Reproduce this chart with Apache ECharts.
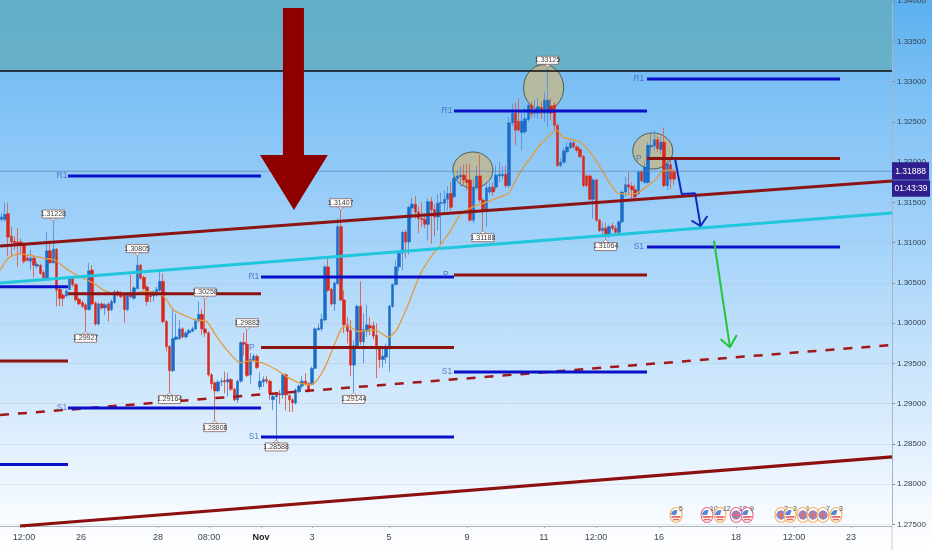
<!DOCTYPE html>
<html>
<head>
<meta charset="utf-8">
<style>
html,body{margin:0;padding:0;width:932px;height:550px;overflow:hidden;background:linear-gradient(to bottom,#5bb0ef 0px,#7cc0f5 90px,#a6d4fa 250px,#d3e9fc 400px,#f8fbff 520px,#ffffff 550px);}
#c{width:932px;height:550px;}
</style>
<script src="https://cdn.jsdelivr.net/npm/echarts@6/dist/echarts.min.js"></script>
</head>
<body>
<div id="c"></div>
<script>
// [open, close, low, high]
const candles = [
[1.3129,1.3132,1.3126,1.3137],[1.3129,1.3135,1.3126,1.3150],[1.3136,1.3107,1.3083,1.3150],[1.3108,1.3101,1.3083,1.3120],
[1.3102,1.3097,1.3091,1.3108],[1.3101,1.3097,1.3070,1.3118],[1.3101,1.3097,1.3085,1.3105],[1.3097,1.3077,1.3074,1.3099],
[1.3081,1.3078,1.3077,1.3085],[1.3077,1.3081,1.3066,1.3091],[1.3081,1.3072,1.3057,1.3085],[1.3071,1.3073,1.3068,1.3076],
[1.3072,1.3062,1.3060,1.3074],[1.3063,1.3056,1.3052,1.3066],[1.3056,1.3090,1.3054,1.3114],[1.3090,1.3075,1.3074,1.3103],
[1.3075,1.3092,1.3074,1.3127],[1.3092,1.3041,1.3021,1.3093],[1.3042,1.3031,1.3021,1.3045],[1.3035,1.3031,1.3021,1.3037],
[1.3034,1.3040,1.3032,1.3042],[1.3042,1.3056,1.3041,1.3058],[1.3056,1.3048,1.3045,1.3058],[1.3048,1.3029,1.3027,1.3050],
[1.3030,1.3024,1.3022,1.3032],[1.3026,1.3021,1.3019,1.3028],[1.3023,1.3017,1.2990,1.3025],[1.3017,1.3065,1.3016,1.3075],
[1.3066,1.3024,1.3022,1.3072],[1.3025,1.2999,1.2997,1.3027],[1.2999,1.3024,1.2997,1.3026],[1.3024,1.3019,1.3017,1.3026],
[1.3019,1.3023,1.3010,1.3025],[1.3024,1.3016,1.3002,1.3026],[1.3017,1.3027,1.3015,1.3030],[1.3026,1.3039,1.3024,1.3041],
[1.3039,1.3035,1.3033,1.3041],[1.3037,1.3033,1.3031,1.3040],[1.3035,1.3017,1.3001,1.3037],[1.3017,1.3036,1.3015,1.3038],
[1.3037,1.3033,1.3031,1.3060],[1.3031,1.3044,1.3029,1.3046],[1.3043,1.3072,1.3042,1.3084],[1.3072,1.3056,1.3054,1.3074],
[1.3057,1.3043,1.3041,1.3059],[1.3045,1.3027,1.3022,1.3047],[1.3037,1.3033,1.3026,1.3040],[1.3034,1.3039,1.3027,1.3041],
[1.3035,1.3042,1.3033,1.3045],[1.3041,1.3052,1.3039,1.3065],[1.3052,1.3002,1.3000,1.3062],[1.3002,1.2971,1.2965,1.3004],
[1.2971,1.2941,1.2914,1.2973],[1.2941,1.2981,1.2939,1.3017],[1.2980,1.2983,1.2979,1.3012],[1.2981,1.2993,1.2979,1.3004],
[1.2993,1.2983,1.2981,1.2995],[1.2983,1.2988,1.2981,1.2990],[1.2988,1.2991,1.2986,1.2993],[1.2990,1.2993,1.2989,1.2996],
[1.2993,1.3003,1.2991,1.3006],[1.3003,1.3011,1.3001,1.3027],[1.3011,1.2993,1.2985,1.3018],[1.2993,1.2988,1.2983,1.3030],
[1.2988,1.2936,1.2934,1.2990],[1.2936,1.2925,1.2918,1.2938],[1.2926,1.2916,1.2879,1.2928],[1.2916,1.2927,1.2914,1.2930],
[1.2927,1.2928,1.2922,1.2932],[1.2929,1.2927,1.2913,1.2940],[1.2927,1.2930,1.2909,1.2938],[1.2930,1.2918,1.2916,1.2932],
[1.2918,1.2905,1.2903,1.2920],[1.2905,1.2928,1.2901,1.2930],[1.2928,1.2976,1.2926,1.2978],[1.2976,1.2974,1.2960,1.2988],
[1.2974,1.2935,1.2933,1.2992],[1.2936,1.2955,1.2925,1.2963],[1.2954,1.2959,1.2952,1.2962],[1.2959,1.2945,1.2943,1.2961],
[1.2921,1.2928,1.2917,1.2939],[1.2927,1.2930,1.2921,1.2934],[1.2930,1.2928,1.2925,1.2935],[1.2928,1.2913,1.2905,1.2930],
[1.2905,1.2909,1.2892,1.2913],[1.2909,1.2911,1.2855,1.2913],[1.2913,1.2911,1.2900,1.2917],[1.2911,1.2936,1.2906,1.2938],
[1.2936,1.2911,1.2892,1.2938],[1.2910,1.2905,1.2890,1.2912],[1.2905,1.2901,1.2890,1.2907],[1.2901,1.2917,1.2899,1.2919],
[1.2915,1.2922,1.2913,1.2924],[1.2922,1.2928,1.2919,1.2934],[1.2928,1.2925,1.2923,1.2938],[1.2925,1.2916,1.2914,1.2927],
[1.2924,1.2944,1.2923,1.2946],[1.2944,1.2993,1.2943,1.2995],[1.2992,1.2994,1.2991,1.2999],[1.2993,1.3005,1.2990,1.3012],
[1.3004,1.3070,1.3002,1.3072],[1.3070,1.3041,1.3039,1.3081],[1.3042,1.3024,1.3022,1.3044],[1.3024,1.3050,1.3015,1.3052],
[1.3049,1.3120,1.3048,1.3130],[1.3120,1.3029,1.3027,1.3141],[1.3029,1.2998,1.2988,1.3041],[1.2998,1.2990,1.2975,1.3008],
[1.2991,1.2948,1.2934,1.3004],[1.2948,1.2972,1.2914,1.2979],[1.2972,1.3021,1.2968,1.3023],[1.3021,1.2977,1.2973,1.3052],
[1.2977,1.2992,1.2950,1.3012],[1.2990,1.2998,1.2983,1.3023],[1.2997,1.2994,1.2985,1.3008],[1.2997,1.2984,1.2980,1.3002],
[1.2985,1.2968,1.2932,1.3000],[1.2968,1.2955,1.2944,1.2970],[1.2955,1.2959,1.2945,1.2970],[1.2958,1.2969,1.2950,1.2975],
[1.2968,1.3021,1.2940,1.3023],[1.3021,1.3048,1.3019,1.3050],[1.3048,1.3070,1.3047,1.3078],[1.3070,1.3088,1.3065,1.3090],
[1.3087,1.3113,1.3066,1.3115],[1.3113,1.3101,1.3081,1.3116],[1.3101,1.3144,1.3085,1.3146],[1.3143,1.3148,1.3130,1.3156],
[1.3148,1.3138,1.3130,1.3158],[1.3138,1.3130,1.3112,1.3145],[1.3130,1.3129,1.3120,1.3150],[1.3129,1.3123,1.3118,1.3135],
[1.3123,1.3151,1.3103,1.3155],[1.3151,1.3141,1.3099,1.3157],[1.3141,1.3132,1.3108,1.3148],[1.3132,1.3149,1.3115,1.3160],
[1.3149,1.3150,1.3097,1.3162],[1.3149,1.3154,1.3135,1.3165],[1.3154,1.3161,1.3140,1.3170],[1.3161,1.3144,1.3140,1.3175],
[1.3157,1.3180,1.3155,1.3190],[1.3180,1.3183,1.3175,1.3190],[1.3182,1.3184,1.3170,1.3195],[1.3184,1.3178,1.3172,1.3197],
[1.3178,1.3175,1.3165,1.3198],[1.3178,1.3128,1.3126,1.3198],[1.3128,1.3169,1.3124,1.3180],[1.3169,1.3183,1.3165,1.3196],
[1.3183,1.3153,1.3150,1.3209],[1.3153,1.3140,1.3115,1.3155],[1.3140,1.3168,1.3120,1.3172],[1.3163,1.3169,1.3160,1.3175],
[1.3169,1.3163,1.3158,1.3175],[1.3169,1.3184,1.3165,1.3196],[1.3183,1.3185,1.3175,1.3200],[1.3183,1.3185,1.3178,1.3195],
[1.3185,1.3171,1.3168,1.3196],[1.3171,1.3249,1.3168,1.3256],[1.3249,1.3261,1.3245,1.3273],[1.3261,1.3240,1.3221,1.3274],
[1.3251,1.3240,1.3238,1.3279],[1.3237,1.3251,1.3215,1.3265],[1.3238,1.3254,1.3235,1.3268],[1.3253,1.3271,1.3250,1.3276],
[1.3271,1.3260,1.3255,1.3275],[1.3261,1.3265,1.3256,1.3277],[1.3261,1.3269,1.3255,1.3280],[1.3268,1.3261,1.3254,1.3275],
[1.3261,1.3277,1.3250,1.3287],[1.3261,1.3277,1.3244,1.3318],[1.3270,1.3261,1.3252,1.3280],[1.3271,1.3246,1.3240,1.3275],
[1.3246,1.3196,1.3194,1.3248],[1.3196,1.3200,1.3194,1.3205],[1.3200,1.3214,1.3198,1.3218],[1.3213,1.3219,1.3211,1.3225],
[1.3218,1.3224,1.3216,1.3228],[1.3224,1.3219,1.3217,1.3226],[1.3219,1.3215,1.3212,1.3221],[1.3216,1.3207,1.3205,1.3218],
[1.3207,1.3171,1.3169,1.3209],[1.3183,1.3171,1.3169,1.3185],[1.3183,1.3154,1.3152,1.3185],[1.3154,1.3178,1.3130,1.3180],
[1.3178,1.3128,1.3126,1.3180],[1.3128,1.3115,1.3113,1.3130],[1.3115,1.3118,1.3110,1.3125],[1.3118,1.3108,1.3104,1.3125],
[1.3108,1.3120,1.3106,1.3122],[1.3121,1.3118,1.3115,1.3125],[1.3118,1.3113,1.3111,1.3122],[1.3113,1.3126,1.3111,1.3128],
[1.3126,1.3163,1.3124,1.3165],[1.3163,1.3172,1.3157,1.3182],[1.3172,1.3169,1.3160,1.3188],[1.3170,1.3166,1.3153,1.3175],
[1.3166,1.3157,1.3155,1.3172],[1.3161,1.3188,1.3159,1.3190],[1.3188,1.3177,1.3175,1.3190],[1.3175,1.3194,1.3173,1.3200],
[1.3175,1.3221,1.3173,1.3225],[1.3219,1.3221,1.3210,1.3235],[1.3220,1.3228,1.3215,1.3240],[1.3228,1.3217,1.3213,1.3232],
[1.3216,1.3225,1.3210,1.3232],[1.3225,1.3171,1.3169,1.3243],[1.3171,1.3198,1.3165,1.3205],[1.3197,1.3179,1.3167,1.3205],
[1.3189,1.3179,1.3172,1.3192]
];
const barSlots = 276;
const emaBars = [0,1,2.6,4.1,6.2,8.3,10.3,13.4,17,19.6,22.7,25.8,28.9,32,35.6,41.3,44.4,49.5,51.6,53.7,56.8,59.9,64,67.1,70.2,74.3,77.4,81.5,85.7,88.7,92.9,96,97.5,99.6,101.6,103.7,105.8,107.8,110.9,113.5,116.1,120.2,122.8,125.9,130,133.1,136.7,139.3,142.4,145.5,149.6,153.7,157.4,159.9,163,167.2,171.3,172.3,174.4,177,179.5,182.6,185.7,188.8,191.4,195,197.1,200.2,203.3,204.8,207.4,209.5];
const emaValues = [1.30654,1.30724,1.30807,1.30844,1.30861,1.30853,1.30836,1.30807,1.30786,1.30704,1.30621,1.30559,1.30497,1.30414,1.30364,1.30372,1.30393,1.30372,1.30290,1.30165,1.30103,1.30049,1.30020,1.29834,1.29669,1.29511,1.29532,1.29503,1.29420,1.29337,1.29255,1.29234,1.29263,1.29379,1.29544,1.29751,1.29938,1.29967,1.29896,1.29909,1.29917,1.29826,1.29917,1.30186,1.30600,1.30807,1.30993,1.31138,1.31345,1.31428,1.31490,1.31552,1.31614,1.31800,1.31986,1.32214,1.32380,1.32400,1.32309,1.32284,1.32255,1.32131,1.31945,1.31738,1.31614,1.31605,1.31614,1.31697,1.31800,1.31883,1.31904,1.31883];
// trend lines: [barStart, priceStart, barEnd, priceEnd]
const upperTrend = [0,1.30960,276.16,1.31767];
const cyanTrend = [0,1.30500,276.16,1.31370];
const dashedTrend = [0,1.28860,276.16,1.29730];
const lowerTrend = [6.2,1.27481,276.16,1.28339];
const resistanceTop = 1.33134;
// pivots: [barStart, barEnd, price]
const blueLevels = [[21.05,80.8,1.31829],[0,21.05,1.30454],[21.05,80.8,1.28947],[0,21.05,1.28245],[80.8,140.55,1.30575],[80.8,140.55,1.28587],[140.55,200.3,1.32637],[140.55,200.3,1.29394],[200.3,260.06,1.33034],[200.3,260.06,1.30947]];
const redLevels = [[21.05,80.8,1.30367],[0,21.05,1.29531],[80.8,140.55,1.29699],[140.55,200.3,1.30599],[200.3,260.06,1.32047]];
const levelNames = [['R1',19.2,1.31829],['S1',19.2,1.28947],['R1',78.6,1.30575],['S1',78.6,1.28587],['P',78,1.29699],['R1',138.4,1.32637],['P',138,1.30599],['S1',138.4,1.29394],['R1',197.8,1.33034],['P',197.8,1.32047],['S1',197.8,1.30947]];
const bigArrow = [[87.6,1.33916],[94.1,1.33916],[94.1,1.32090],[101.5,1.32090],[91,1.31407],[80.5,1.32090],[87.6,1.32090]];
const blueArrow = [[209,1.32037],[211.05,1.31606],[215.2,1.31614],[216.9,1.31208]];
const blueHead = [[214.1,1.31274],[216.9,1.31208],[219,1.31332]];
const greenArrow = [[221.05,1.31025],[226,1.29701]];
const greenHead = [[223.1,1.29801],[226,1.29701],[228.1,1.29854]];
// ellipses: [bar, price, barRadius, priceRadius]
const ellipses = [[146.4,1.31904,6.2,0.00224],[168.3,1.32926,6.2,0.00286],[202.1,1.32140,6.2,0.00224]];
// callouts: [candle index, price, text, above?]
const callouts = [[16,1.3127,'1.31228',1],[42,1.3084,'1.30805',1],[26,1.2990,'1.29927',0],[63,1.3030,'1.30258',1],[52,1.2914,'1.29164',0],[66,1.2879,'1.28808',0],[76,1.2992,'1.29882',1],[85,1.2855,'1.28588',0],[105,1.3141,'1.31407',1],[109,1.2914,'1.29144',0],[149,1.3115,'1.31188',0],[169,1.3318,'1.33125',1],[187,1.3104,'1.31064',0]];
const lastPrice = 1.31888;
const lastPriceText = '1.31888';
const countdownText = '01:43:39';
const xTickBars = [7.43,25.08,48.92,64.71,80.8,96.6,120.43,144.58,168.4,184.5,204,227.9,245.8,263.5];
const xTickLabels = ['12:00','26','28','08:00','Nov','3','5','9','11','12:00','16','18','12:00','23'];
const eventBars = [209.3,218.9,222.9,227.9,231.3,241.8,244.6,248.6,251.7,254.8,258.8];
const eventTexts = ['5','10','12','18','9','2','3','1','','7','3'];
const eventRings = ['#f2b15c','#ec6a8f','#f2b15c','#ec6a8f','#ec6a8f','#f2b15c','#f2b15c','#f2b15c','#f2b15c','#f2b15c','#f2b15c'];
const eventFlags = ['us','us','us','uk','us','uk','us','uk','uk','uk','us'];
const eventPrice = 1.27618;

const RED='#d8281c', BLUE='#1b6cc6';
const FONT='Liberation Sans';
const lineSeries=(pts,color,width,extra)=>Object.assign({type:'line',xAxisIndex:1,yAxisIndex:0,data:pts,showSymbol:false,silent:true,animation:false,lineStyle:{color,width},z:5},extra||{});
const seg=(s,c,w,e)=>lineSeries([[s[0],s[1]],[s[2],s[3]]],c,w,e);
const poly=(rows,style,closed)=>({type:closed?'polygon':'polyline',shape:{points:rows},style});

const series=[];
// resistance zone behind everything
series.push({type:'custom',xAxisIndex:1,yAxisIndex:0,clip:false,silent:true,animation:false,z:1,data:[[0,resistanceTop]],
  renderItem:(p,api)=>{const a=api.coord([0,resistanceTop]);const b=api.coord([276.16,resistanceTop]);
    return {type:'rect',shape:{x:a[0],y:0,width:b[0]-a[0],height:a[1]},style:{fill:'rgba(100,172,182,0.68)'}};}});
// ellipses, under the candles
series.push({type:'custom',xAxisIndex:1,yAxisIndex:0,silent:true,animation:false,clip:false,z:2,data:ellipses,
  renderItem:(p,api)=>{const e=ellipses[p.dataIndex];const c=api.coord([e[0],e[1]]);const a=api.coord([e[0]+e[2],e[1]+e[3]]);
    return {type:'ellipse',shape:{cx:c[0],cy:c[1],rx:a[0]-c[0],ry:c[1]-a[1]},style:{fill:'rgba(196,184,138,0.8)',stroke:'#4f5a55',lineWidth:1}};}});
// wicks, pale
series.push({type:'candlestick',xAxisIndex:0,yAxisIndex:0,data:candles,barWidth:1,silent:true,animation:false,z:3,
  itemStyle:{color:'#5f97d8',color0:'#d86a62',borderColor:'#5f97d8',borderColor0:'#d86a62',borderWidth:1}});
// bodies, saturated
series.push({type:'candlestick',xAxisIndex:0,yAxisIndex:0,barWidth:3,silent:true,animation:false,z:3,
  data:candles.map(c=>[c[0],c[1],Math.min(c[0],c[1]),Math.max(c[0],c[1])]),
  itemStyle:{color:BLUE,color0:RED,borderColor:BLUE,borderColor0:RED,borderWidth:0.5}});
series.push(lineSeries(emaBars.map((b,i)=>[b,emaValues[i]]),'#e59a3c',1.3,{z:4,smooth:0.2}));
series.push(lineSeries([[0,lastPrice],[276.16,lastPrice]],'rgba(90,120,170,0.6)',1,{z:4}));
series.push(seg([0,resistanceTop,276.16,resistanceTop],'#0c0c0c',1.5));
series.push(seg(upperTrend,'#8c1414',3));
series.push(seg(cyanTrend,'#1fc6dc',3));
series.push(seg(dashedTrend,'#a01818',2.5,{lineStyle:{color:'#a01818',width:2.5,type:[9,9]}}));
series.push(seg(lowerTrend,'#8c1010',3.2,{clip:false}));
blueLevels.forEach(l=>series.push(seg([l[0],l[2],l[1],l[2]],'#0a10c8',3)));
redLevels.forEach(l=>series.push(seg([l[0],l[2],l[1],l[2]],'#8e1212',3)));
series.push(lineSeries(blueArrow,'#1028c0',2,{z:6}));
series.push(lineSeries(blueHead,'#1028c0',2,{z:6}));
series.push(lineSeries(greenArrow,'#22c63a',2,{z:6}));
series.push(lineSeries(greenHead,'#22c63a',2,{z:6}));
series.push({type:'scatter',xAxisIndex:1,yAxisIndex:0,symbolSize:1,itemStyle:{color:'transparent'},silent:true,animation:false,z:6,
  data:levelNames.map(n=>({value:[n[1],n[2]],name:n[0]})),
  label:{show:true,position:'inside',formatter:d=>d.name,fontSize:8.5,fontFamily:FONT,color:'#3a63c8'}});
// big arrow
series.push({type:'custom',xAxisIndex:1,yAxisIndex:0,silent:true,animation:false,clip:false,z:8,data:[bigArrow[0]],
  renderItem:(p,api)=>poly(bigArrow.map(r=>api.coord(r)),{fill:'#8e0000'},true)});
// callouts
series.push({type:'custom',xAxisIndex:1,yAxisIndex:0,silent:true,animation:false,clip:false,z:9,data:callouts.map(c=>[c[0]+0.5,c[1]]),
  renderItem:(p,api)=>{const c=callouts[p.dataIndex];const t=api.coord([c[0]+0.5,c[1]]);const s=c[3]?-1:1;
    const by=t[1]+s*3;const top=c[3]?by-8:by;
    return {type:'group',children:[
      {type:'polygon',shape:{points:[[t[0],t[1]],[t[0]-3,by],[t[0]+3,by]]},style:{fill:'#fff',stroke:'#8a6a6a',lineWidth:0.7}},
      {type:'rect',shape:{x:t[0]-11,y:top,width:22,height:8},style:{fill:'#fff',stroke:'#86605f',lineWidth:0.8}},
      {type:'text',style:{x:t[0],y:top+4,text:c[2],fill:'#3a3a3a',fontSize:7,fontFamily:FONT,align:'center',verticalAlign:'middle'}}
    ]};}});
// economic event badges
series.push({type:'custom',xAxisIndex:1,yAxisIndex:0,silent:true,animation:false,clip:false,z:9,data:eventBars.map(b=>[b,eventPrice]),
  renderItem:(p,api)=>{const i=p.dataIndex;const c=api.coord([eventBars[i],eventPrice]);const x=c[0],y=c[1];
    const kids=[{type:'ellipse',shape:{cx:x,cy:y,rx:6,ry:7.5},style:{fill:'#fbfdff',stroke:eventRings[i],lineWidth:1.1}}];
    if(eventFlags[i]==='us'){
      kids.push({type:'sector',shape:{cx:x,cy:y,r:5,r0:0,startAngle:Math.PI,endAngle:Math.PI*1.6},style:{fill:'#5b86d6'}});
      kids.push({type:'rect',shape:{x:x-4.5,y:y+1,width:9,height:1.8},style:{fill:'#e66a66'}});
      kids.push({type:'rect',shape:{x:x-3.2,y:y+3.8,width:6.4,height:1.5},style:{fill:'#e66a66'}});
    }else{
      kids.push({type:'circle',shape:{cx:x,cy:y,r:4.6},style:{fill:'#8a8ace'}});
      kids.push({type:'rect',shape:{x:x-4.5,y:y-0.7,width:9,height:1.4},style:{fill:'#e66a66'}});
      kids.push({type:'rect',shape:{x:x-0.7,y:y-4.5,width:1.4,height:9},style:{fill:'#e66a66'}});
    }
    kids.push({type:'text',style:{x:x+3,y:y-9,text:eventTexts[i],fill:'#555',fontSize:7,fontFamily:FONT}});
    return {type:'group',children:kids};}});
// last price tags
series.push({type:'custom',xAxisIndex:1,yAxisIndex:0,silent:true,animation:false,clip:false,z:10,data:[[276.16,lastPrice]],
  renderItem:(p,api)=>{const c=api.coord([276.16,lastPrice]);const x=c[0],y=c[1];
    return {type:'group',children:[
      {type:'rect',shape:{x:x,y:y-9,width:37,height:17.5},style:{fill:'#2f1f8e'}},
      {type:'rect',shape:{x:x,y:y+9,width:38,height:16.5},style:{fill:'#2f1f8e'}},
      {type:'text',style:{x:x+18.5,y:y,text:lastPriceText,fill:'#fff',fontSize:8.5,fontFamily:FONT,align:'center',verticalAlign:'middle'}},
      {type:'text',style:{x:x+19,y:y+17.5,text:countdownText,fill:'#fff',fontSize:8.5,fontFamily:FONT,align:'center',verticalAlign:'middle'}}
    ]};}});

const chart=echarts.init(document.getElementById('c'),null,{renderer:'canvas',width:932,height:550});
chart.setOption({
  backgroundColor:'transparent',animation:false,
  grid:{left:0,right:40,top:1.25,height:523.25,containLabel:false,outerBoundsMode:'none'},
  xAxis:[
    {type:'category',data:Array.from({length:barSlots},(_,i)=>i),show:false,boundaryGap:true},
    {type:'value',min:0,max:276.16,position:'bottom',offset:1.5,
      axisLine:{show:true,onZero:false,lineStyle:{color:'#a9b1ba',width:1}},
      axisTick:{show:true,length:2,customValues:xTickBars,lineStyle:{color:'#a9b1ba'}},
      axisLabel:{show:true,customValues:xTickBars,margin:7,fontSize:9,fontFamily:FONT,color:'#3c4650',hideOverlap:false,
        formatter:v=>{const i=xTickBars.indexOf(v);const s=xTickLabels[i];return s==='Nov'?'{b|Nov}':s;},rich:{b:{fontWeight:'bold',fontSize:9,color:'#222',fontFamily:FONT}}},
      splitLine:{show:false}}
  ],
  yAxis:[{type:'value',position:'right',min:1.275,max:1.34,interval:0.005,
    axisLine:{show:true,onZero:false,lineStyle:{color:'#a9b5c2',width:1}},
    axisTick:{show:true,length:3,lineStyle:{color:'#8894a0'}},
    axisLabel:{show:true,margin:5,fontSize:8,fontFamily:FONT,color:'#37424d',formatter:v=>v.toFixed(5),hideOverlap:false},
    splitLine:{show:true,lineStyle:{color:'rgba(170,185,200,0.28)',width:1}}}],
  graphic:[{type:'line',shape:{x1:892,y1:526,x2:892,y2:550},style:{stroke:'#c5cbd2',lineWidth:1}}],
  series
});
</script>
</body>
</html>
